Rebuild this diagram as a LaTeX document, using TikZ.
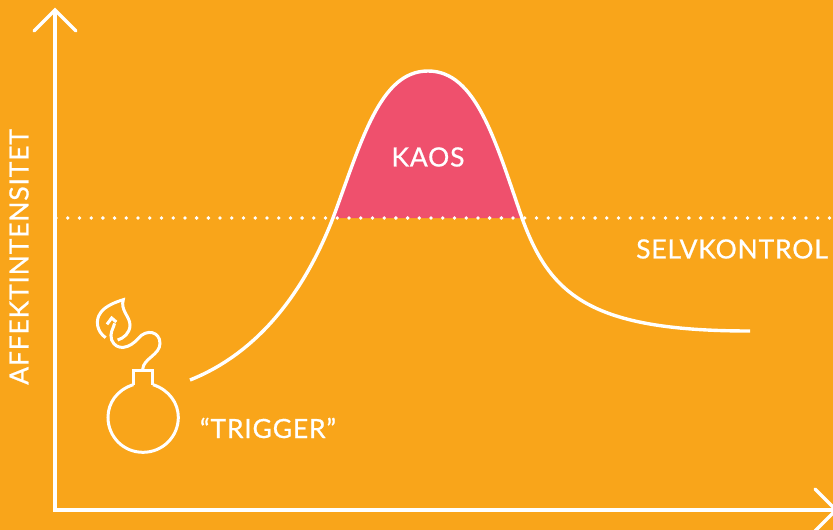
\documentclass[tikz,border=0pt]{standalone}
\usepackage{fontspec}
\setmainfont[LetterSpace=3,FakeBold=0.7]{Lato}
\definecolor{bgc}{HTML}{F9A51A}
\definecolor{pinkc}{HTML}{EF506D}
\begin{document}
\begin{tikzpicture}[x=1pt,y=-1pt,
  wline/.style={draw=white,line width=3.4pt},
  icon/.style={draw=white,line width=3pt},
  lbl/.style={text=white,font=\fontsize{26.5}{26.5}\selectfont,inner sep=0pt}]
\fill[bgc] (0,0) rectangle (833,530);
\useasboundingbox (0,0) rectangle (833,530);
\begin{scope}
\clip (300,40) rectangle (560,218);
\fill[pinkc] (333,218) .. controls (362,140) and (380,71) .. (428,71)
  .. controls (476,71) and (495,140) .. (522,218) -- cycle;
\end{scope}
\coordinate (dl) at (56,218);
\coordinate (dr) at (833,218);
\draw[draw=white,line width=3.8pt,line cap=round,dash pattern=on 0pt off 11.72pt] (dl) -- (dr);
\coordinate (o) at (55,510);
\coordinate (yt) at (55,10);
\coordinate (xt) at (836,510);
\draw[wline] (yt) -- (o) -- (xt);
\draw[wline,line cap=round,line join=miter] (34,31) -- (yt) -- (76,31);
\draw[wline,line cap=round,line join=miter] (815,489) -- (xt) -- (815,531);
\draw[wline] (190,380) .. controls (260,352) and (305,290) .. (333,218)
  .. controls (362,140) and (380,71) .. (428,71)
  .. controls (476,71) and (495,140) .. (522,218)
  .. controls (550,295) and (590,331) .. (750,331);
\begin{scope}[shift={(80,290)},x=0.3333pt,y=-0.3333pt]
\draw[icon] (160,284) -- (160,241) -- (219,241) -- (219,284);
\draw[icon] (160,284) .. controls (110,300) and (84,340) .. (84,382)
  .. controls (84,440) and (130,487) .. (189,487)
  .. controls (248,487) and (295,440) .. (295,382)
  .. controls (295,340) and (268,300) .. (219,284);
\draw[icon] (188,238) .. controls (190,205) and (240,195) .. (240,160)
  .. controls (240,125) and (200,115) .. (175,145)
  .. controls (150,175) and (110,185) .. (95,150)
  .. controls (88,130) and (100,115) .. (104,100);
\draw[icon] (81,103) -- (95,84) -- (109,96);
\draw[icon] (77,143) .. controls (50,125) and (45,90) .. (62,68)
  .. controls (75,48) and (110,35) .. (130,29)
  .. controls (120,60) and (150,80) .. (150,105)
  .. controls (150,130) and (130,145) .. (113,150);
\end{scope}
\node[lbl,rotate=90] (ya) at (19,257) {AFFEKTINTENSITET};
\node[lbl] (ka) at (428,157) {KAOS};
\node[lbl] (se) at (732,249) {SELVKONTROL};
\node[lbl] (tr) at (268,428) {“TRIGGER”};
\end{tikzpicture}
\end{document}
